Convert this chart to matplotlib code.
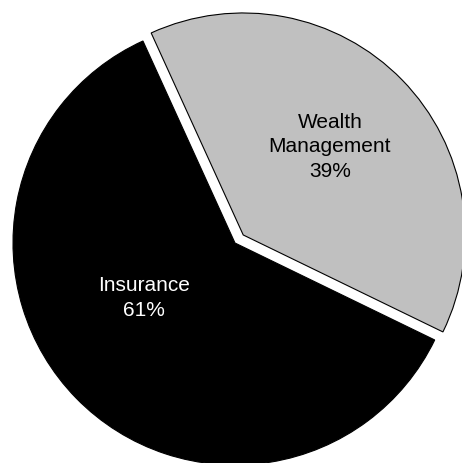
import matplotlib.pyplot as plt

# Data
segments = ['Wealth\nManagement', 'Insurance']
shares = [39, 61]
colors = ['#c0c0c0', '#000000']
text_colors = ['black', 'white']
explode = [11.5, 0]

plt.rcParams['font.family'] = ['Liberation Sans', 'DejaVu Sans']

fig = plt.figure(figsize=(4.62, 4.64), dpi=100)
ax = fig.add_axes([0, 0, 1, 1])

wedges, _ = ax.pie(shares, colors=colors, explode=explode, startangle=114.5,
                   counterclock=False, radius=222, center=(235, 220),
                   wedgeprops=dict(edgecolor='black', linewidth=0.8))

ax.set_xlim(0, 462)
ax.set_ylim(0, 464)
ax.set_aspect('equal')
ax.axis('off')

# Labels
label_pos = [(330, 464 - 147), (144, 464 - 298)]
for name, pct, pos, tc in zip(segments, shares, label_pos, text_colors):
    ax.text(pos[0], pos[1], f'{name}\n{pct}%', ha='center', va='center',
            color=tc, fontsize=15, linespacing=1.38)

fig.savefig('out.png', dpi=100)
